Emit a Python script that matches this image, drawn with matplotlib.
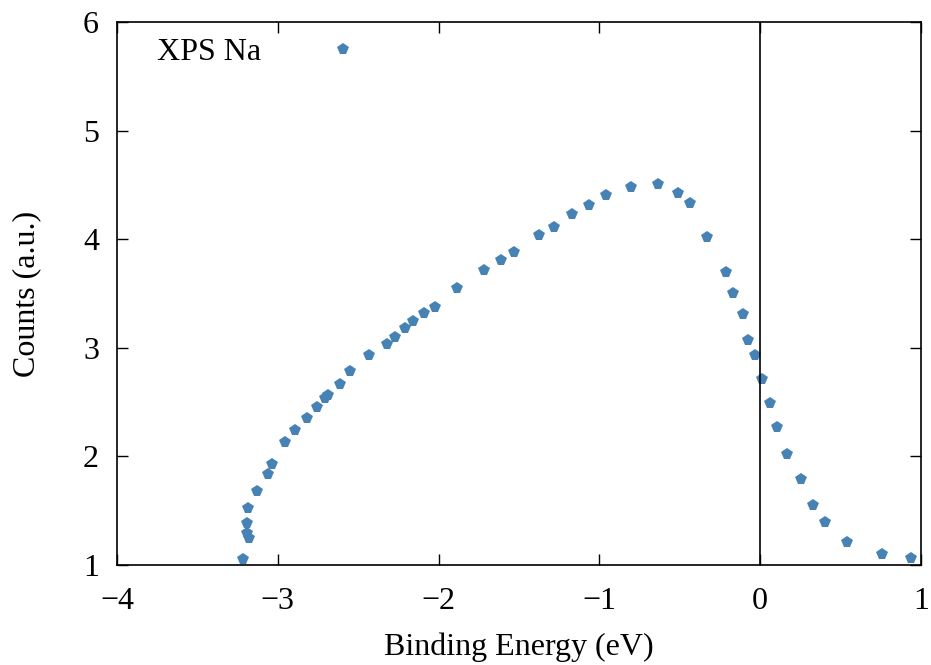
import matplotlib
matplotlib.use('Agg')
import matplotlib.pyplot as plt

plt.rcParams['font.family'] = ['Liberation Serif', 'DejaVu Serif']
plt.rcParams['mathtext.fontset'] = 'stix'

# XPS Na spectrum
energy = [-3.216, -3.179, -3.192, -3.192, -3.185, -3.129, -3.061, -3.036,
          -2.955, -2.893, -2.818, -2.756, -2.706, -2.688, -2.613, -2.551,
          -2.433, -2.321, -2.271, -2.209, -2.159, -2.091, -2.022, -1.886,
          -1.718, -1.612, -1.531, -1.376, -1.282, -1.170, -1.065, -0.959,
          -0.803, -0.636, -0.511, -0.437, -0.331, -0.213, -0.169, -0.107,
          -0.076, -0.032, 0.012, 0.061, 0.104, 0.167, 0.254, 0.328,
          0.403, 0.540, 0.757, 0.938]
counts = [1.055, 1.249, 1.295, 1.387, 1.525, 1.681, 1.838, 1.930,
          2.133, 2.243, 2.354, 2.455, 2.538, 2.565, 2.667, 2.786,
          2.934, 3.035, 3.099, 3.182, 3.247, 3.320, 3.376, 3.551,
          3.716, 3.808, 3.882, 4.039, 4.112, 4.232, 4.315, 4.407,
          4.481, 4.508, 4.425, 4.333, 4.020, 3.698, 3.505, 3.311,
          3.072, 2.934, 2.713, 2.492, 2.271, 2.022, 1.792, 1.552,
          1.396, 1.212, 1.101, 1.064]

xticks = [-4, -3, -2, -1, 0, 1]
yticks = [1, 2, 3, 4, 5, 6]

fig = plt.figure(figsize=(9.31, 6.65), dpi=100)
ax = fig.add_axes([117/931, 100/665, 804/931, 543/665])

ax.plot(energy, counts, 'p', color='#4682b4', markersize=8.5,
        markeredgewidth=0, label='XPS Na')
ax.axvline(0, color='black', lw=1.2)

ax.set_xlim(-4, 1)
ax.set_ylim(1, 6)
ax.set_xticks(xticks)
ax.set_yticks(yticks)
ax.set_xticklabels(['\u22124', '\u22123', '\u22122', '\u22121', '0', '1'])
ax.tick_params(direction='in', length=8, width=1, top=True, right=True,
               labelsize=23)
ax.tick_params(axis='x', pad=16)
ax.tick_params(axis='y', pad=13)
for s in ax.spines.values():
    s.set_linewidth(1.2)

ax.set_xlabel('Binding Energy (eV)', fontsize=23, labelpad=12)
ax.set_ylabel('Counts (a.u.)', fontsize=23, labelpad=30)

ax.legend(loc='upper left', frameon=False, markerfirst=False, fontsize=23,
          handlelength=2.1, handletextpad=1.5, borderaxespad=0.1,
          bbox_to_anchor=(0.03, 1.0))

fig.savefig('out.png', dpi=100)
